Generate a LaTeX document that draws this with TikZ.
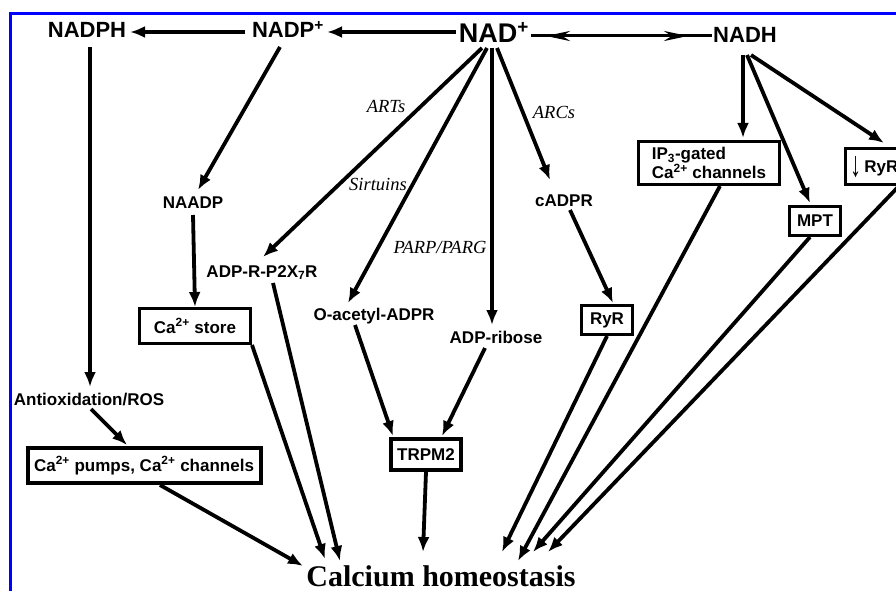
\documentclass[tikz,border=0pt]{standalone}
\usepackage{fontspec}
\setmainfont{Liberation Sans}
\newfontfamily\serifrm{Liberation Serif}
\usetikzlibrary{arrows.meta,calc}
\tikzset{
  arr/.style={line width=3.8pt, -{Latex[length=15pt,width=12pt]}},
  lbl/.style={font=\fontsize{17}{19}\selectfont\bfseries, inner sep=1pt, anchor=base},
  big/.style={font=\fontsize{22}{25}\selectfont\bfseries, inner sep=1pt, anchor=base},
  enz/.style={font=\fontsize{18.5}{20}\selectfont\serifrm\itshape, inner sep=1pt, anchor=base},
  box/.style={draw, line width=3pt, font=\fontsize{17}{20}\selectfont\bfseries, inner sep=1pt},
  thickbox/.style={box, line width=4pt},
}
\begin{document}
\begin{tikzpicture}[x=1pt,y=-1pt]
\useasboundingbox (0,0) rectangle (896,591);
\clip (0,0) rectangle (896,591);
\draw[blue, line width=3pt] (10.5,620) -- (10.5,13.5) -- (920,13.5);

% main nodes
\node[big] (nadph) at (87,38) {NADPH};
\node[big] (nadp) at (288,38) {NADP\textsuperscript{+}};
\node[big, font=\fontsize{27}{30}\selectfont\bfseries] (nad) at (494,43) {NAD\textsuperscript{+}};
\node[big] (nadh) at (745,43) {NADH};

\node[lbl] (naadp) at (193,208) {NAADP};
\node[lbl] (p2x7) at (262,277) {ADP-R-P2X\textsubscript{7}R};
\node[lbl] (oacetyl) at (374,320) {O-acetyl-ADPR};
\node[lbl] (adpribose) at (496,343) {ADP-ribose};
\node[lbl] (cadpr) at (564,206) {cADPR};
\node[lbl] (antiox) at (89,405) {Antioxidation/ROS};

\node[thickbox, minimum width=233pt, minimum height=35pt] (capumps) at (144,465.5) {Ca\textsuperscript{2+} pumps, Ca\textsuperscript{2+} channels};
\node[box, minimum width=111pt, minimum height=35pt] (castore) at (195,326) {Ca\textsuperscript{2+} store};
\node[thickbox, minimum width=70pt, minimum height=31pt] (trpm2) at (426,454.5) {TRPM2};
\node[box, minimum width=51pt, minimum height=29pt] (ryr) at (607,320) {RyR};
\node[box, minimum width=141pt, minimum height=43pt, align=left, font=\fontsize{17}{19}\selectfont\bfseries] (ip3) at (709,163) {IP\textsubscript{3}-gated\\Ca\textsuperscript{2+} channels};
\node[box, minimum width=51pt, minimum height=29pt] (mpt) at (815,221) {MPT};
\node[box, minimum height=36pt, inner xsep=5pt, anchor=west] (dryr) at (844,166.5) {\raisebox{-4pt}{\scalebox{1.3}[2.1]{\char"2193}}\,RyR};

\node[anchor=base, inner sep=0pt, font=\fontsize{30}{32}\selectfont\serifrm\bfseries] (calcium) at (441,586) {Calcium homeostasis};

% enzyme labels
\node[enz] (arts) at (386,113) {ARTs};
\node[enz] (sirt) at (378,190) {Sirtuins};
\node[enz] (parp) at (440,253) {PARP/PARG};
\node[enz] (arcs) at (554,118) {ARCs};

% top row
\draw[arr, line width=4.2pt] ([shift={(-38,-11)}]nad.base) -- ([shift={(39,-6)}]nadp.base);
\draw[arr] ([shift={(-43,-6)}]nadp.base) -- ([shift={(43,-6)}]nadph.base);
\draw[line width=3pt] ([shift={(37,-7)}]nad.base) -- ([shift={(-33,-7)}]nadh.base);
\draw[line width=3pt, {Stealth[length=24pt,width=10pt]}-{Stealth[length=24pt,width=10pt]}]
  ([shift={(52,-7)}]nad.base) -- ([shift={(-57,-7)}]nadh.base);

% left branch
\draw[arr] ([shift={(3,9)}]nadph.base) -- ([shift={(1,-18)}]antiox.base);
\draw[arr] ([shift={(2,4)}]antiox.base) -- ([shift={(-17,-1)}]capumps.north);
\draw[arr] ([shift={(-8,9)}]nadp.base) -- ([shift={(5,-18)}]naadp.base);
\draw[arr] ([shift={(0,7)}]naadp.base) -- (castore.north);

% NAD+ branches
\draw[arr] ([shift={(-12,5)}]nad.base) -- ([shift={(1,-20)}]p2x7.base);
\draw[arr] ([shift={(-7,5)}]nad.base) -- ([shift={(-26,-17)}]oacetyl.base);
\draw[arr] ([shift={(-2,5)}]nad.base) -- ([shift={(-4,-18)}]adpribose.base);
\draw[arr] ([shift={(3,5)}]nad.base) -- ([shift={(-14,-26)}]cadpr.base);
\draw[arr] ([shift={(-19,5)}]oacetyl.base) -- ([shift={(4,-1)}]trpm2.north west);
\draw[arr] ([shift={(-11,5)}]adpribose.base) -- ([shift={(16,-1)}]trpm2.north);
\draw[arr] ([shift={(6,4)}]cadpr.base) -- ([shift={(6,-1)}]ryr.north);

% NADH branches
\draw[arr] ([shift={(-2,12)}]nadh.base) -- ([shift={(34,-2)}]ip3.north);
\draw[arr] ([shift={(2,12)}]nadh.base) -- ([shift={(-5,-2)}]mpt.north);
\draw[arr] ([shift={(6,12)}]nadh.base) -- ([shift={(40,-4)}]dryr.north west);

% to calcium homeostasis
\draw[arr] ([shift={(16,0)}]capumps.south) -- ([shift={(-138,1)}]calcium.north);
\draw[arr] (castore.south east) -- ([shift={(-116,-6)}]calcium.north);
\draw[arr] ([shift={(11,6)}]p2x7.base) -- ([shift={(-101,-4)}]calcium.north);
\draw[arr] (trpm2.south) -- ([shift={(-18,-13)}]calcium.north);
\draw[arr] (ryr.south) -- ([shift={(61,-13)}]calcium.north);
\draw[arr] ([shift={(11,0)}]ip3.south) -- ([shift={(77,-4)}]calcium.north);
\draw[arr] ([shift={(-5,0)}]mpt.south) -- ([shift={(92,-13)}]calcium.north);
\draw[arr] ([shift={(55,0)}]dryr.south west) -- ([shift={(107,-13)}]calcium.north);
\end{tikzpicture}
\end{document}
